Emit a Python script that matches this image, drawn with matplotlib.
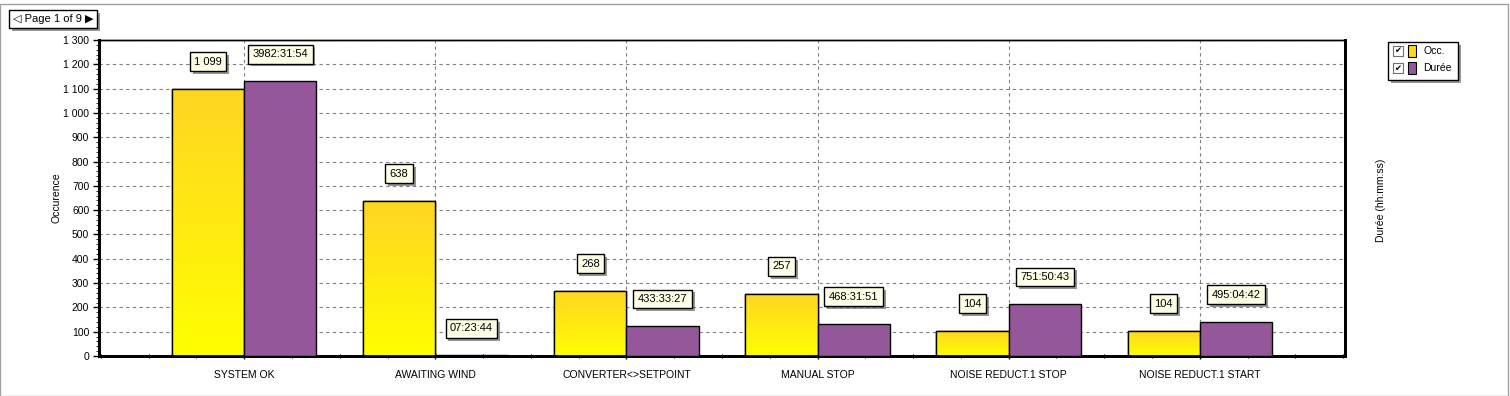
import matplotlib
matplotlib.use("Agg")
import matplotlib.pyplot as plt
import matplotlib.patheffects as pe
from matplotlib.patches import Rectangle
from matplotlib.ticker import MultipleLocator, FuncFormatter
from matplotlib.colors import LinearSegmentedColormap
import numpy as np

categories = ["SYSTEM OK", "AWAITING WIND", "CONVERTER<>SETPOINT",
              "MANUAL STOP", "NOISE REDUCT.1 STOP", "NOISE REDUCT.1 START"]
occurrences = [1099, 638, 268, 257, 104, 104]
durations = ["3982:31:54", "07:23:44", "433:33:27", "468:31:51", "751:50:43", "495:04:42"]
occ_labels = ["1 099", "638", "268", "257", "104", "104"]


def to_hours(s):
    h, m, sec = s.split(":")
    return int(h) + int(m) / 60 + int(sec) / 3600


dur_hours = [to_hours(d) for d in durations]

plt.rcParams['font.family'] = ['Liberation Sans', 'DejaVu Sans']

W, H = 1510, 396
fig = plt.figure(figsize=(W / 100, H / 100), dpi=100)
fig.patch.set_facecolor("white")

L, R, T, B = 99, 1345, 40, 356
ax = fig.add_axes([L / W, 1 - B / H, (R - L) / W, (B - T) / H])
ax2 = ax.twinx()

x = np.arange(len(categories))
bw = 0.378
ax.set_xlim(-0.76, len(categories) - 1 + 0.76)
ax.set_ylim(0, 1300)
ax2.set_ylim(0, 4580)

yellow_bars = ax.bar(x - bw / 2, occurrences, bw, color="#FFE81A",
                     edgecolor="black", linewidth=1.0, zorder=3)
purple_bars = ax2.bar(x + bw / 2, dur_hours, bw, color="#93579A",
                      edgecolor="black", linewidth=1.0, zorder=3)

# gradient for yellow bars
grad = np.linspace(0, 1, 256).reshape(-1, 1)
cmap = LinearSegmentedColormap.from_list("yg", ["#FFFF00", "#FFD523"])
for b in yellow_bars:
    bx, by = b.get_x(), b.get_y()
    bwid, bh = b.get_width(), b.get_height()
    im = ax.imshow(grad, cmap=cmap, aspect="auto", origin="lower",
                   extent=(bx, bx + bwid, by, by + bh), zorder=3.1)
    im.set_clip_path(b)
    ax.add_patch(Rectangle((bx, by), bwid, bh, fill=False, edgecolor="black",
                           linewidth=1.0, zorder=3.2))
ax.set_xlim(-0.76, len(categories) - 1 + 0.76)
ax.set_ylim(0, 1300)

# grid
ax.set_axisbelow(True)
ax.grid(True, which="major", color="#808080", linestyle=(0, (3, 3)), linewidth=0.8)
ax.set_xticks(x)
ax.set_xticklabels(categories, fontsize=7.5)
ax.xaxis.set_minor_locator(MultipleLocator(0.25))
ax.tick_params(axis="x", which="major", length=4, width=1, direction="inout", pad=8)
ax.tick_params(axis="x", which="minor", length=3, width=0.8, direction="inout")
ax.yaxis.set_major_locator(MultipleLocator(100))
ax.yaxis.set_minor_locator(MultipleLocator(20))
ax.yaxis.set_major_formatter(FuncFormatter(lambda v, p: f"{int(v):,}".replace(",", " ")))
ax.tick_params(axis="y", which="major", length=4, width=1, labelsize=7.5, pad=3)
ax.tick_params(axis="y", which="minor", length=2, width=0.6)

ax2.set_yticks([])
for a in (ax, ax2):
    a.spines["left"].set_linewidth(2)
    a.spines["bottom"].set_linewidth(2)
    a.spines["right"].set_linewidth(2)
    a.spines["top"].set_linewidth(1)

shadow = [pe.SimplePatchShadow(offset=(2, -2), shadow_rgbFace="#505050", alpha=0.6), pe.Normal()]
bbox = dict(boxstyle="square,pad=0.4", fc="#FFFFE8", ec="black", lw=1)

for b, lab in zip(yellow_bars, occ_labels):
    t = ax.annotate(lab, (b.get_x() + b.get_width() / 2, b.get_height()),
                    xytext=(0, 19.5), textcoords="offset points",
                    ha="center", va="center", fontsize=8, bbox=bbox, zorder=6)
    t.get_bbox_patch().set_path_effects(shadow)
for b, lab in zip(purple_bars, durations):
    t = ax2.annotate(lab, (b.get_x() + b.get_width() / 2, b.get_height()),
                     xytext=(0, 19.5), textcoords="offset points",
                     ha="center", va="center", fontsize=8, bbox=bbox, zorder=6)
    t.get_bbox_patch().set_path_effects(shadow)

# axis labels
fig.text(56 / W, 1 - 198 / H, "Occurence", rotation=90, ha="center", va="center", fontsize=7.5)
fig.text(1381 / W, 1 - 200 / H, "Durée (hh:mm:ss)", rotation=90, ha="center", va="center", fontsize=7.5)

# page navigator
pt = fig.text(13 / W, 1 - 19 / H, "◁ Page 1 of 9 ▶", ha="left", va="center", fontsize=8,
              family=['Liberation Sans', 'DejaVu Sans'],
              bbox=dict(boxstyle="square,pad=0.35", fc="white", ec="black", lw=1))
pt.get_bbox_patch().set_path_effects(shadow)

# legend (manual)
lx0, ly0, lw_, lh_ = 1388, 42, 70, 38
leg = Rectangle((lx0 / W, 1 - (ly0 + lh_) / H), lw_ / W, lh_ / H, transform=fig.transFigure,
                fc="white", ec="black", lw=1, zorder=10)
leg.set_path_effects(shadow)
fig.add_artist(leg)
for i, (name, col) in enumerate([("Occ.", "#FFD81A"), ("Durée", "#93579A")]):
    yc = 51 + i * 17
    fig.add_artist(Rectangle((1393 / W, 1 - (yc + 5) / H), 10 / W, 10 / H,
                             transform=fig.transFigure, fc="white", ec="#707070", lw=0.8, zorder=11))
    fig.text(1398 / W, 1 - yc / H, "✔", ha="center", va="center", fontsize=6,
             family=['DejaVu Sans'], zorder=12)
    fig.add_artist(Rectangle((1408 / W, 1 - (yc + 6) / H), 8 / W, 12 / H,
                             transform=fig.transFigure, fc=col, ec="black", lw=0.8, zorder=11))
    fig.text(1423 / W, 1 - yc / H, name, ha="left", va="center", fontsize=7.5, zorder=12)

# outer frame
fig.add_artist(Rectangle((0, 0.5 / H), (W - 2) / W, (H - 4) / H, transform=fig.transFigure,
                         fill=False, ec="#A0A0A0", lw=1))

fig.savefig("out.png", dpi=100)
